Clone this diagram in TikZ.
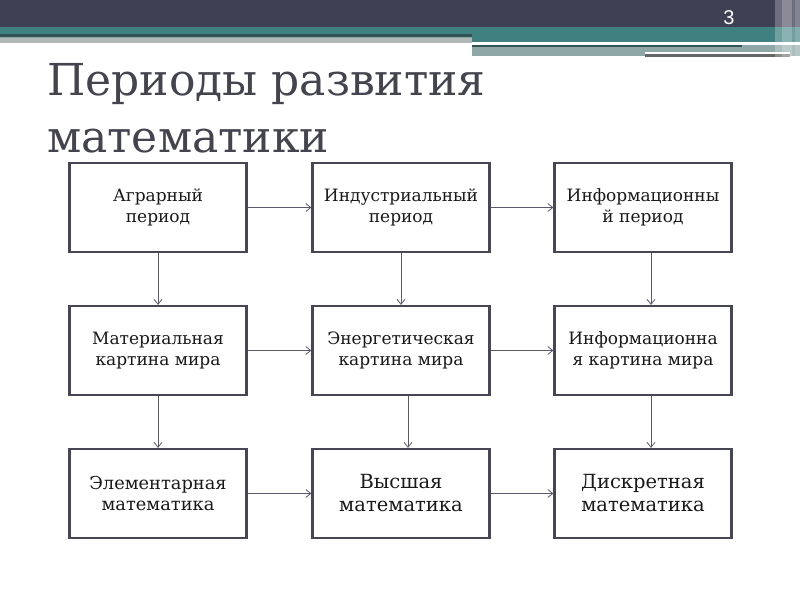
\documentclass[tikz,border=0pt]{standalone}
\usepackage{fontspec}
\setmainfont{DejaVu Serif}
\newfontfamily\numfont{Liberation Sans}
\usetikzlibrary{arrows.meta}
\definecolor{hdrdark}{RGB}{62,64,84}
\definecolor{hdrteal}{RGB}{64,128,128}
\definecolor{hdrline}{RGB}{50,84,86}
\definecolor{hdrgrey}{RGB}{143,168,167}
\definecolor{hdrlight}{RGB}{176,184,184}
\definecolor{titlecol}{RGB}{68,68,78}
\definecolor{boxline}{RGB}{70,70,86}
\definecolor{arrline}{RGB}{90,90,106}
\tikzset{
  box/.style={draw=boxline, line width=2.2pt, fill=white, minimum width=177pt,
    minimum height=89pt, align=center, inner sep=2pt, font=\fontsize{17}{20.7}\selectfont, text=black!90},
  bigbox/.style={box, font=\fontsize{19.5}{23}\selectfont},
  arr/.style={draw=arrline, line width=0.8pt, -{Straight Barb[length=5pt,width=8pt,line width=0.8pt]}}
}
\begin{document}
\begin{tikzpicture}[x=1pt,y=-1pt]
\useasboundingbox (0,0) rectangle (800,600);
% header
\fill[hdrdark] (0,0) rectangle (800,27);
\fill[hdrteal] (0,27) rectangle (472,34);
\fill[hdrline] (0,34) rectangle (472,36.5);
\fill[hdrgrey] (0,36.5) rectangle (472,38);
\fill[hdrlight] (0,38) rectangle (472,43);
\fill[hdrteal] (472,27) rectangle (800,42);
\fill[white] (472,42.5) rectangle (742,45);
\fill[hdrgrey] (472,45) rectangle (800,56);
\fill[hdrline] (472,45) rectangle (742,47);
\fill[white] (645,51.5) rectangle (790,54);
\fill[black!60] (645,54) rectangle (790,56.5);
\fill[white,opacity=0.25] (775,0) rectangle (800,58);
\fill[white,opacity=0.2] (782,0) rectangle (792,58);
\fill[white,opacity=0.15] (795,0) rectangle (800,58);
\node[text=white, font=\numfont\fontsize{20}{20}\selectfont, anchor=base] (pnum) at (729,24) {3};
% title
\node[text=titlecol, font=\fontsize{44}{57}\selectfont, anchor=base west, inner sep=0pt] (t1) at (47,95) {Периоды развития};
\node[text=titlecol, font=\fontsize{44}{57}\selectfont, anchor=base west, inner sep=0pt] (t2) at (47,152) {математики};
% boxes
\node[box] (a1) at (158,207.5) {Аграрный\\период};
\node[box] (a2) at (401,207.5) {Индустриальный\\период};
\node[box] (a3) at (643,207.5) {Информационны\\й период};
\node[box] (b1) at (158,350.5) {Материальная\\картина мира};
\node[box] (b2) at (401,350.5) {Энергетическая\\картина мира};
\node[box] (b3) at (643,350.5) {Информационна\\я картина мира};
\node[box, font=\fontsize{17.8}{21}\selectfont] (c1) at (158,493.5) {Элементарная\\математика};
\node[bigbox] (c2) at (401,493.5) {Высшая\\математика};
\node[bigbox] (c3) at (643,493.5) {Дискретная\\математика};
% horizontal arrows
\draw[arr] (a1) -- (a2);
\draw[arr] (a2) -- (a3);
\draw[arr] (b1) -- (b2);
\draw[arr] (b2) -- (b3);
\draw[arr] (c1) -- (c2);
\draw[arr] (c2) -- (c3);
% vertical arrows
\draw[arr] (a1) -- (b1);
\draw[arr] (a2) -- (b2);
\draw[arr] ([xshift=8pt]a3.south) -- ([xshift=8pt]b3.north);
\draw[arr] (b1) -- (c1);
\draw[arr] ([xshift=7pt]b2.south) -- ([xshift=7pt]c2.north);
\draw[arr] ([xshift=8pt]b3.south) -- ([xshift=8pt]c3.north);
\end{tikzpicture}
\end{document}
